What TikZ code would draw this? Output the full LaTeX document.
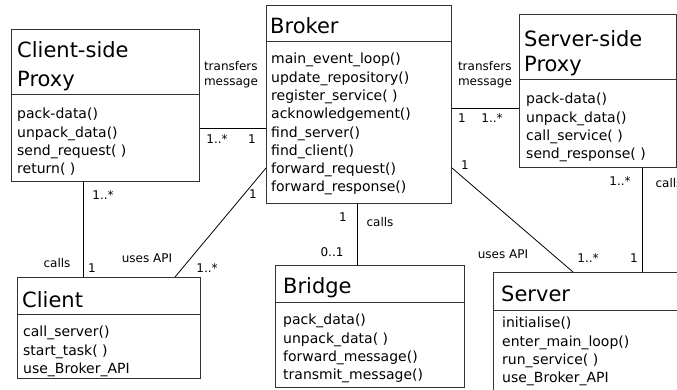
\documentclass[tikz,border=0pt]{standalone}
\usepackage{fontspec}
\setmainfont{DejaVu Sans}
\usetikzlibrary{positioning,calc}

\begin{document}
\begin{tikzpicture}[x=1pt, y=-1pt,
    classbox/.style={draw=black!80, line width=1pt, inner sep=0, anchor=north west},
    divider/.style={draw=black!80, line width=1pt},
    classtitle/.style={font=\fontsize{21}{28}\selectfont, anchor=base west, inner sep=0},
    ops/.style={font=\fontsize{14}{18.3}\selectfont, align=left, anchor=north west, inner sep=0},
    lbl/.style={font=\fontsize{12}{15}\selectfont, inner sep=0, align=left},
    assoc/.style={draw, line width=0.8pt}]
        \useasboundingbox (0,0) rectangle (677,390);
        \clip (0,0) rectangle (677,390);
        % class boxes
        \node[classbox, minimum width=188, minimum height=152] (csp) at (11,29) {};
        \node[classbox, minimum width=185, minimum height=198] (broker) at (266,5) {};
        \node[classbox, minimum width=157, minimum height=153] (ssp) at (519,14) {};
        \node[classbox, minimum width=183, minimum height=101] (client) at (17,277) {};
        \node[classbox, minimum width=189, minimum height=122] (bridge) at (275,265) {};
        \node[classbox, minimum width=250, minimum height=200] (server) at (493,272) {};
        \draw[divider] (csp.west |- 0,95) -- (csp.east |- 0,95);
        \draw[divider] (broker.west |- 0,42) -- (broker.east |- 0,42);
        \draw[divider] (ssp.west |- 0,80) -- (ssp.east |- 0,80);
        \draw[divider] (client.west |- 0,314) -- (client.east |- 0,314);
        \draw[divider] (bridge.west |- 0,302) -- (bridge.east |- 0,302);
        \draw[divider] (server.west |- 0,310) -- (server.east |- 0,310);
        % titles and operations
        \node[classtitle] (csp-t1) at (17,58) {Client-side};
        \node[classtitle] (csp-t2) at (17,87) {Proxy};
        \node[ops] (csp-ops) at (17,108) {pack-data()\\unpack\_data()\\send\_request( )\\return( )};
        \node[classtitle] (broker-t) at (270,34) {Broker};
        \node[ops] (broker-ops) at (271,53) {main\_event\_loop()\\update\_repository()\\register\_service( )\\acknowledgement()\\find\_server()\\find\_client()\\forward\_request()\\forward\_response()};
        \node[classtitle] (ssp-t1) at (524,47) {Server-side};
        \node[classtitle] (ssp-t2) at (524,72) {Proxy};
        \node[ops] (ssp-ops) at (526,93) {pack-data()\\unpack\_data()\\call\_service( )\\send\_response( )};
        \node[classtitle] (client-t) at (22,307) {Client};
        \node[ops] (client-ops) at (23,326) {call\_server()\\start\_task( )\\use\_Broker\_API};
        \node[classtitle] (bridge-t) at (283,293) {Bridge};
        \node[ops] (bridge-ops) at (283,314) {pack\_data()\\unpack\_data( )\\forward\_message()\\transmit\_message()};
        \node[classtitle] (server-t) at (501,301) {Server};
        \node[ops] (server-ops) at (502,317) {initialise()\\enter\_main\_loop()\\run\_service( )\\use\_Broker\_API};
        % associations
        \draw[assoc] (csp.east |- 0,128) -- (broker.west |- 0,128);
        \draw[assoc] (broker.east |- 0,108) -- (ssp.west |- 0,108);
        \draw[assoc] (broker.west |- 0,168) -- (client.north -| 175,0);
        \draw[assoc] (csp.south -| 83,0) -- (client.north -| 83,0);
        \draw[assoc] (broker.south -| 357,0) -- (bridge.north -| 357,0);
        \draw[assoc] (broker.east |- 0,168) -- (server.north -| 573,0);
        \draw[assoc] (ssp.south -| 642,0) -- (server.north -| 642,0);
        % association labels
        \node[lbl] (tm-left) at (231,75) {transfers\\message};
        \node[lbl] (tm-right) at (485,75) {transfers\\message};
        \node[lbl] (m-csp-b) at (217,139) {1..*};
        \node[lbl] (m-b-csp) at (252,139) {1};
        \node[lbl] (m-b-ssp) at (462,118) {1};
        \node[lbl] (m-ssp-b) at (492,118) {1..*};
        \node[lbl] (m-csp-c) at (103,195) {1..*};
        \node[lbl] (m-c-csp) at (92,268) {1};
        \node[lbl] (calls-c) at (57,263) {calls};
        \node[lbl] (m-b-c) at (253,194) {1};
        \node[lbl] (m-c-b) at (207,268) {1..*};
        \node[lbl] (api-c) at (147,258) {uses API};
        \node[lbl] (m-b-br) at (343,217) {1};
        \node[lbl] (calls-br) at (380,222) {calls};
        \node[lbl] (m-br-b) at (332,252) {0..1};
        \node[lbl] (m-b-s) at (465,165) {1};
        \node[lbl] (m-s-b) at (588,258) {1..*};
        \node[lbl] (api-s) at (503,254) {uses API};
        \node[lbl] (m-ssp-s) at (620,181) {1..*};
        \node[lbl] (calls-s) at (669,183) {calls};
        \node[lbl] (m-s-ssp) at (634,258) {1};
\end{tikzpicture}
\end{document}
